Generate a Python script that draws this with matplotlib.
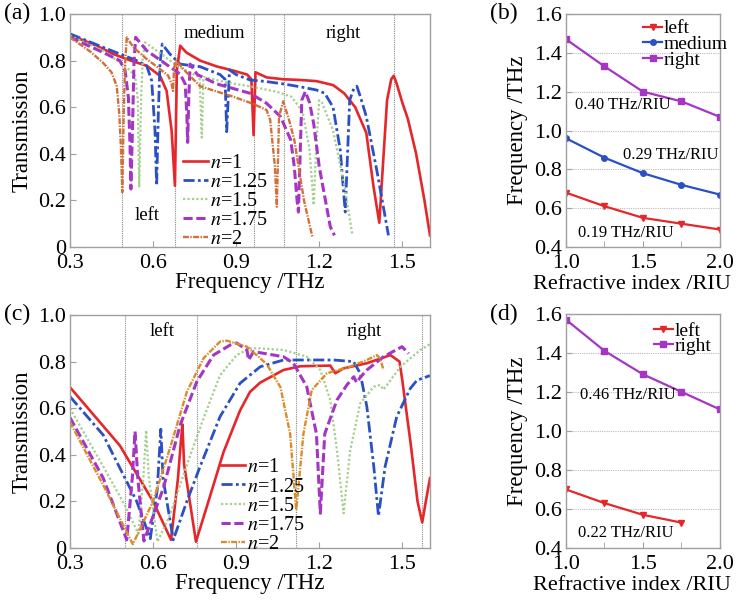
import matplotlib
matplotlib.use('Agg')
import matplotlib.pyplot as plt

plt.rcParams['font.family'] = ['Liberation Serif', 'DejaVu Serif']
plt.rcParams['mathtext.fontset'] = 'stix'

# ---- panel (a): transmission spectra ----
a_n1_f = [0.30, 0.40, 0.457, 0.52, 0.577, 0.625, 0.649, 0.667, 0.679, 0.686, 0.698, 0.72, 0.77, 0.83, 0.89, 0.94,
          0.955, 0.963, 0.970, 1.01, 1.07, 1.13, 1.19, 1.25, 1.29, 1.33, 1.37, 1.396, 1.417, 1.43, 1.445, 1.46,
          1.469, 1.48, 1.50, 1.52, 1.55, 1.58, 1.60]
a_n1_t = [0.910, 0.862, 0.828, 0.80, 0.778, 0.735, 0.67, 0.50, 0.263, 0.757, 0.864, 0.835, 0.80, 0.775, 0.757, 0.74,
          0.72, 0.48, 0.75, 0.728, 0.72, 0.717, 0.712, 0.695, 0.66, 0.60, 0.49, 0.26, 0.104, 0.35, 0.63, 0.72,
          0.735, 0.70, 0.62, 0.55, 0.40, 0.20, 0.05]

a_n125_f = [0.30, 0.42, 0.541, 0.577, 0.595, 0.607, 0.613, 0.619, 0.625, 0.633, 0.661, 0.698, 0.77, 0.842, 0.860,
            0.866, 0.876, 0.90, 0.95, 1.01, 1.07, 1.13, 1.19, 1.22, 1.25, 1.276, 1.294, 1.31, 1.325, 1.336, 1.35,
            1.37, 1.41, 1.45]
a_n125_t = [0.915, 0.857, 0.80, 0.778, 0.714, 0.50, 0.263, 0.571, 0.785, 0.871, 0.828, 0.785, 0.774, 0.74, 0.72,
            0.495, 0.76, 0.74, 0.717, 0.71, 0.70, 0.688, 0.674, 0.66, 0.60, 0.416, 0.15, 0.63, 0.68, 0.69, 0.64,
            0.56, 0.316, 0.05]

a_n15_f = [0.30, 0.42, 0.505, 0.535, 0.545, 0.550, 0.557, 0.563, 0.571, 0.613, 0.686, 0.74, 0.768, 0.776, 0.782,
           0.80, 0.87, 0.95, 1.05, 1.10, 1.14, 1.165, 1.18, 1.19, 1.20, 1.21, 1.25, 1.29, 1.32]
a_n15_t = [0.907, 0.843, 0.771, 0.735, 0.63, 0.256, 0.64, 0.814, 0.878, 0.843, 0.778, 0.745, 0.73, 0.47, 0.73,
           0.725, 0.705, 0.69, 0.665, 0.645, 0.58, 0.42, 0.18, 0.45, 0.63, 0.62, 0.50, 0.27, 0.05]

a_n175_f = [0.30, 0.42, 0.48, 0.499, 0.511, 0.517, 0.520, 0.527, 0.531, 0.537, 0.577, 0.637, 0.698, 0.716, 0.722,
            0.725, 0.729, 0.734, 0.76, 0.83, 0.95, 1.01, 1.06, 1.097, 1.11, 1.12, 1.125, 1.137, 1.15, 1.165, 1.18,
            1.20, 1.24, 1.255]
a_n175_t = [0.90, 0.835, 0.80, 0.757, 0.642, 0.428, 0.249, 0.571, 0.785, 0.90, 0.843, 0.793, 0.742, 0.70, 0.571,
            0.449, 0.642, 0.785, 0.74, 0.70, 0.66, 0.617, 0.56, 0.46, 0.345, 0.20, 0.15, 0.63, 0.667, 0.62, 0.53,
            0.345, 0.087, 0.05]

a_n2_f = [0.30, 0.372, 0.42, 0.45, 0.469, 0.478, 0.484, 0.489, 0.494, 0.499, 0.505, 0.529, 0.577, 0.625, 0.655,
          0.667, 0.672, 0.676, 0.683, 0.72, 0.77, 0.89, 0.96, 1.01, 1.023, 1.04, 1.047, 1.055, 1.07, 1.09, 1.11,
          1.145, 1.175]
a_n2_t = [0.90, 0.84, 0.79, 0.75, 0.69, 0.571, 0.428, 0.235, 0.571, 0.785, 0.90, 0.857, 0.807, 0.764, 0.735,
          0.70, 0.67, 0.771, 0.80, 0.75, 0.69, 0.645, 0.615, 0.588, 0.545, 0.345, 0.173, 0.56, 0.625, 0.55, 0.46,
          0.20, 0.045]

a_guides = [0.488, 0.68, 0.965, 1.073, 1.47]

# ---- panel (c): transmission spectra ----
c_n1_f = [0.30, 0.48, 0.60, 0.665, 0.69, 0.70, 0.706, 0.712, 0.755, 0.80, 0.854, 0.914, 0.95, 0.987, 1.071, 1.131,
          1.24, 1.258, 1.288, 1.372, 1.457, 1.49, 1.50, 1.53, 1.555, 1.572, 1.585, 1.60]
c_n1_t = [0.69, 0.44, 0.20, 0.035, 0.30, 0.45, 0.53, 0.36, 0.027, 0.20, 0.41, 0.59, 0.67, 0.71, 0.764, 0.78,
          0.783, 0.75, 0.771, 0.793, 0.828, 0.80, 0.72, 0.45, 0.20, 0.11, 0.20, 0.30]

c_n125_f = [0.30, 0.42, 0.541, 0.59, 0.615, 0.628, 0.636, 0.673, 0.722, 0.77, 0.842, 0.914, 0.987, 1.071, 1.131,
            1.252, 1.324, 1.348, 1.372, 1.397, 1.414, 1.438, 1.48, 1.529, 1.553, 1.60]
c_n125_t = [0.65, 0.485, 0.20, 0.04, 0.25, 0.51, 0.30, 0.035, 0.20, 0.35, 0.564, 0.707, 0.778, 0.807, 0.807,
            0.807, 0.80, 0.75, 0.607, 0.35, 0.137, 0.35, 0.564, 0.685, 0.72, 0.74]

c_n15_f = [0.30, 0.42, 0.50, 0.547, 0.565, 0.575, 0.585, 0.616, 0.661, 0.722, 0.782, 0.842, 0.902, 0.95, 0.987,
           1.071, 1.155, 1.204, 1.24, 1.264, 1.288, 1.312, 1.348, 1.397, 1.42, 1.432, 1.445, 1.493, 1.565, 1.60]
c_n15_t = [0.60, 0.35, 0.18, 0.06, 0.30, 0.505, 0.30, 0.027, 0.142, 0.356, 0.556, 0.742, 0.828, 0.857, 0.857,
           0.85, 0.821, 0.764, 0.635, 0.42, 0.149, 0.42, 0.621, 0.692, 0.70, 0.68, 0.70, 0.778, 0.85, 0.875]

c_n175_f = [0.30, 0.42, 0.505, 0.525, 0.535, 0.545, 0.567, 0.637, 0.698, 0.758, 0.818, 0.878, 0.902, 0.939, 0.945,
            0.963, 1.071, 1.107, 1.155, 1.19, 1.204, 1.22, 1.264, 1.30, 1.325, 1.335, 1.35, 1.372, 1.432, 1.499,
            1.523]
c_n175_t = [0.56, 0.30, 0.035, 0.30, 0.50, 0.30, 0.03, 0.256, 0.528, 0.714, 0.828, 0.871, 0.88, 0.85, 0.807,
            0.843, 0.821, 0.793, 0.692, 0.49, 0.149, 0.49, 0.635, 0.70, 0.735, 0.71, 0.735, 0.764, 0.821, 0.864,
            0.835]

c_n2_f = [0.30, 0.42, 0.527, 0.60, 0.661, 0.722, 0.782, 0.842, 0.866, 0.939, 1.01, 1.06, 1.095, 1.117, 1.143,
          1.173, 1.228, 1.31, 1.372, 1.408, 1.42, 1.432]
c_n2_t = [0.54, 0.27, 0.016, 0.20, 0.428, 0.67, 0.814, 0.886, 0.89, 0.864, 0.79, 0.69, 0.49, 0.163, 0.49,
          0.678, 0.75, 0.778, 0.807, 0.828, 0.814, 0.764]

c_guides = [0.50, 0.758, 1.117, 1.57]

# ---- panels (b) and (d): resonance frequency vs refractive index ----
n_idx = [1.0, 1.25, 1.5, 1.75, 2.0]
b_left = [0.68, 0.61, 0.55, 0.52, 0.49]
b_medium = [0.96, 0.86, 0.78, 0.72, 0.67]
b_right = [1.47, 1.33, 1.20, 1.15, 1.07]
d_left = [0.70, 0.63, 0.57, 0.53]
d_right = [1.57, 1.41, 1.29, 1.20, 1.11]

labels = ['$n$=1', '$n$=1.25', '$n$=1.5', '$n$=1.75', '$n$=2']

RED = '#e5262b'
BLUE = '#2b50c4'
GREEN = '#a4cf8c'
PURPLE = '#a535c4'
ORANGE_A = '#d2703a'
ORANGE_C = '#d98c2c'
GRAY = '#a0a0a0'

styles = [dict(color=RED, ls='-', lw=1.9),
          dict(color=BLUE, ls=(0, (4, 1.2, 1, 1.2)), lw=2.0),
          dict(color=GREEN, ls=(0, (1, 1)), lw=1.6),
          dict(color=PURPLE, ls=(0, (3, 1.2)), lw=2.2),
          dict(color=ORANGE_A, ls=(0, (2.5, 0.6, 0.6, 0.6)), lw=1.7)]

fig = plt.figure(figsize=(7.42, 6.02), dpi=100)
ax_a = fig.add_axes([0.0943, 0.5897, 0.4852, 0.387])
ax_b = fig.add_axes([0.7628, 0.5897, 0.2075, 0.387])
ax_c = fig.add_axes([0.0943, 0.0897, 0.4852, 0.387])
ax_d = fig.add_axes([0.7628, 0.0897, 0.2075, 0.389])


def style_axes(ax):
    for s in ax.spines.values():
        s.set_color(GRAY)
        s.set_linewidth(1.0)
    ax.tick_params(direction='in', color=GRAY, length=4, labelsize=16, pad=3)
    ax.tick_params(axis='x', pad=5)


def spectrum(ax, curves, guides, col_n2):
    for x in guides:
        ax.axvline(x, color='#888888', ls=(0, (1, 1)), lw=0.8, zorder=0)
    for (f, t), st, lab in zip(curves, styles, labels):
        st = dict(st)
        if lab == '$n$=2':
            st['color'] = col_n2
        ax.plot(f, t, label=lab, **st)
    ax.set_xlim(0.3, 1.6)
    ax.set_ylim(0, 1.0)
    ax.set_xticks([0.3, 0.6, 0.9, 1.2, 1.5])
    ax.set_xticklabels(['0.3', '0.6', '0.9', '1.2', '1.5'])
    ax.set_yticks([0, 0.2, 0.4, 0.6, 0.8, 1.0])
    ax.set_yticklabels(['0', '0.2', '0.4', '0.6', '0.8', '1.0'])
    ax.set_xlabel('Frequency /THz', fontsize=16.5, labelpad=-1)
    ax.set_ylabel('Transmission', fontsize=16.5, labelpad=4)
    style_axes(ax)


spectrum(ax_a, [(a_n1_f, a_n1_t), (a_n125_f, a_n125_t), (a_n15_f, a_n15_t),
                (a_n175_f, a_n175_t), (a_n2_f, a_n2_t)], a_guides, ORANGE_A)
ax_a.text(0.82, 0.917, 'medium', ha='center', va='center', fontsize=13.5)
ax_a.text(1.288, 0.917, 'right', ha='center', va='center', fontsize=13.5)
ax_a.text(0.58, 0.137, 'left', ha='center', va='center', fontsize=13.5)
ax_a.legend(loc='upper left', bbox_to_anchor=(0.315, 0.40), frameon=False, fontsize=14.5,
            handlelength=1.2, handletextpad=0.1, labelspacing=0.0, borderpad=0, borderaxespad=0)

spectrum(ax_c, [(c_n1_f, c_n1_t), (c_n125_f, c_n125_t), (c_n15_f, c_n15_t),
                (c_n175_f, c_n175_t), (c_n2_f, c_n2_t)], c_guides, ORANGE_C)
ax_c.text(0.634, 0.928, 'left', ha='center', va='center', fontsize=13.5)
ax_c.text(1.363, 0.928, 'right', ha='center', va='center', fontsize=13.5)
ax_c.legend(loc='upper left', bbox_to_anchor=(0.42, 0.385), frameon=False, fontsize=14.5,
            handlelength=1.2, handletextpad=0.1, labelspacing=0.0, borderpad=0, borderaxespad=0)


def sensitivity(ax):
    ax.set_xlim(1.0, 2.0)
    ax.set_ylim(0.4, 1.6)
    ax.set_xticks([1.0, 1.5, 2.0])
    ax.set_xticklabels(['1.0', '1.5', '2.0'])
    ax.set_xticks([1.25, 1.75], minor=True)
    ax.set_yticks([0.4, 0.6, 0.8, 1.0, 1.2, 1.4, 1.6])
    ax.set_yticklabels(['0.4', '0.6', '0.8', '1.0', '1.2', '1.4', '1.6'])
    ax.yaxis.grid(True, color='#bbbbbb', ls=(0, (1, 1)), lw=0.8)
    ax.set_axisbelow(True)
    ax.set_xlabel('Refractive index /RIU', fontsize=16, labelpad=0)
    ax.xaxis.set_label_coords(0.43, -0.12)
    ax.set_ylabel('Frequency /THz', fontsize=16.5, labelpad=4)
    style_axes(ax)
    ax.tick_params(which='minor', direction='in', color=GRAY, length=4)


ax_b.plot(n_idx, b_left, color=RED, marker='v', ms=4, lw=1.6, label='left')
ax_b.plot(n_idx, b_medium, color=BLUE, marker='o', ms=4, lw=1.6, label='medium')
ax_b.plot(n_idx, b_right, color=PURPLE, marker='s', ms=4, lw=1.6, label='right')
sensitivity(ax_b)
ax_b.text(1.06, 1.13, '0.40 THz/RIU', fontsize=12, va='center')
ax_b.text(1.37, 0.875, '0.29 THz/RIU', fontsize=12, va='center')
ax_b.text(1.08, 0.47, '0.19 THz/RIU', fontsize=12, va='center')
ax_b.legend(loc='upper left', bbox_to_anchor=(0.50, 0.975), frameon=False, fontsize=14,
            handlelength=1.0, handletextpad=0.05, labelspacing=-0.1, borderpad=0, borderaxespad=0)

ax_d.plot(n_idx[:4], d_left, color=RED, marker='v', ms=4, lw=1.6, label='left')
ax_d.plot(n_idx, d_right, color=PURPLE, marker='s', ms=4, lw=1.6, label='right')
sensitivity(ax_d)
ax_d.text(1.09, 1.185, '0.46 THz/RIU', fontsize=12, va='center')
ax_d.text(1.08, 0.477, '0.22 THz/RIU', fontsize=12, va='center')
ax_d.legend(loc='upper left', bbox_to_anchor=(0.57, 0.965), frameon=False, fontsize=14,
            handlelength=1.0, handletextpad=0.05, labelspacing=-0.1, borderpad=0, borderaxespad=0)

fig.text(0.006, 0.977, '(a)', fontsize=17, va='center')
fig.text(0.660, 0.977, '(b)', fontsize=17, va='center')
fig.text(0.006, 0.477, '(c)', fontsize=17, va='center')
fig.text(0.660, 0.478, '(d)', fontsize=17, va='center')

fig.savefig('out.png', dpi=100)
